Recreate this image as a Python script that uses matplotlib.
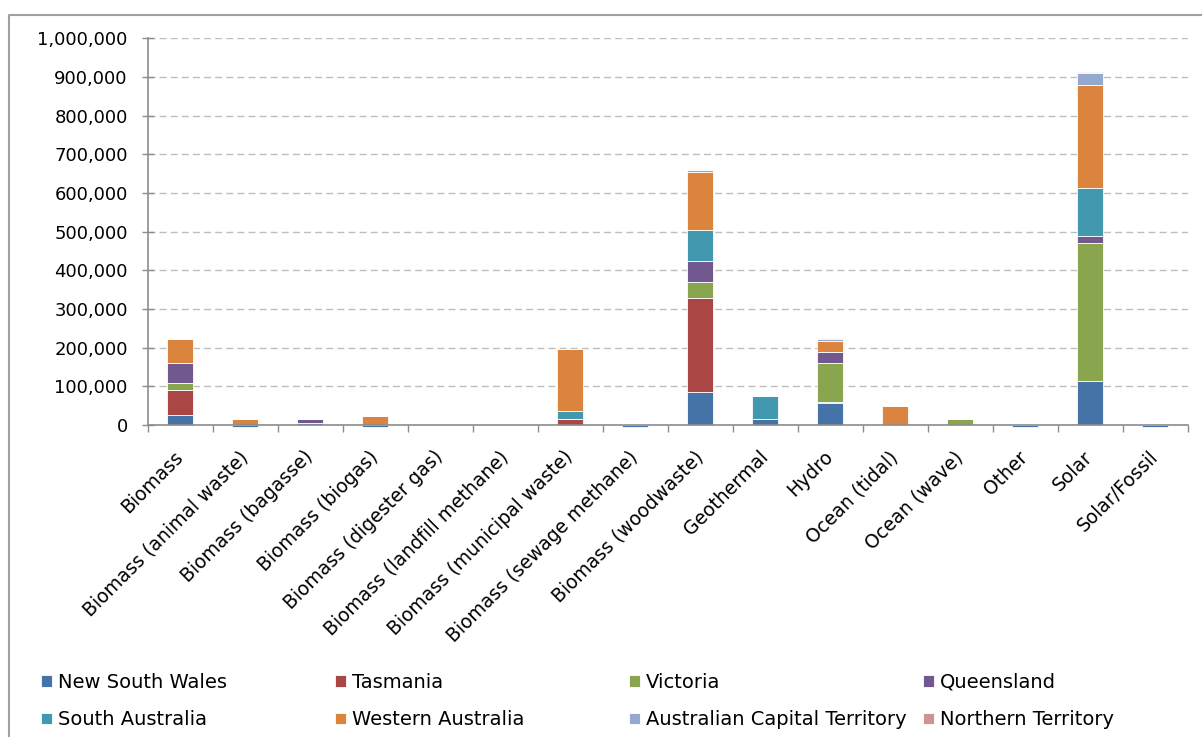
import numpy as np
import matplotlib
matplotlib.use("Agg")
import matplotlib.pyplot as plt
from matplotlib.ticker import FuncFormatter, FixedLocator
from matplotlib.lines import Line2D

plt.rcParams['font.family'] = ['DejaVu Sans']

# Installed capacity by fuel source and state
fuels = ["Biomass", "Biomass (animal waste)", "Biomass (bagasse)", "Biomass (biogas)",
         "Biomass (digester gas)", "Biomass (landfill methane)", "Biomass (municipal waste)",
         "Biomass (sewage methane)", "Biomass (woodwaste)", "Geothermal", "Hydro",
         "Ocean (tidal)", "Ocean (wave)", "Other", "Solar", "Solar/Fossil"]

states = ["New South Wales", "Tasmania", "Victoria", "Queensland", "South Australia",
          "Western Australia", "Australian Capital Territory", "Northern Territory"]

nsw = [25000, -6000, 5000, -6000, 0, 1500, 0, -6000, 85000, 16000, 57000, 0, 0, -6000, 114000, -6000]
tas = [65000, 0, 0, 0, 0, 0, 15000, 0, 243000, 0, 3000, 0, 0, 0, 0, 0]
vic = [19000, 0, 0, 0, 2000, 0, 0, 1500, 42000, 0, 99000, 0, 15000, 0, 357000, 0]
qld = [50000, 0, 10000, 0, 0, 0, 0, 0, 55000, 0, 30000, 0, 0, 0, 17000, 0]
sa = [0, 0, 0, 0, 0, 0, 22000, 0, 80000, 60000, 0, 0, 0, 0, 125000, 0]
wa = [63000, 15000, 0, 24000, 0, 0, 159000, 0, 150000, 0, 29000, 50000, 0, 0, 267000, 0]
act = [0, 0, 0, 0, 0, 0, 0, 0, 0, 0, 5000, 0, 0, 0, 30000, 0]
nt = [0, 0, 0, 0, 0, 0, 0, 0, 5000, 0, 1000, 0, 0, 0, 4000, 0]

series = [nsw, tas, vic, qld, sa, wa, act, nt]
colors = ["#4572A7", "#AA4643", "#89A54E", "#71588F",
          "#4198AF", "#DB843D", "#93A9CF", "#D19392"]

fig = plt.figure(figsize=(12.02, 7.37), dpi=100)
ax = fig.add_axes([0.123, 0.4235, 0.865, 0.5245])

x = np.arange(len(fuels))
pos_base = np.zeros(len(fuels))
neg_base = np.zeros(len(fuels))
handles = []
for vals, name, col in zip(series, states, colors):
    v = np.array(vals, dtype=float)
    bottom = np.where(v >= 0, pos_base, neg_base)
    h = ax.bar(x, v, width=0.4, bottom=bottom, color=col, edgecolor="white",
               linewidth=0.6, label=name, clip_on=False, zorder=3)
    handles.append(h)
    pos_base += np.where(v > 0, v, 0)
    neg_base += np.where(v < 0, v, 0)

ax.set_xlim(-0.5, len(fuels) - 0.5)
ax.set_ylim(0, 1000000)
ax.set_yticks(np.arange(0, 1000001, 100000))
ax.yaxis.set_major_formatter(FuncFormatter(lambda v, p: f"{int(v):,}"))
ax.grid(axis="y", color="#BEBEBE", linestyle=(0, (5, 3)), linewidth=1.0, zorder=0)

ax.set_xticks(x)
ax.set_xticklabels(fuels, rotation=45, ha="right", va="center", rotation_mode="anchor")
ax.xaxis.set_minor_locator(FixedLocator(np.arange(-0.5, len(fuels), 1.0)))
ax.tick_params(axis="x", which="major", length=0, pad=21, labelsize=13.5)
ax.tick_params(axis="x", which="minor", length=5, color="#8C8C8C", width=1)
ax.tick_params(axis="y", direction="inout", length=9, color="#8C8C8C", width=1,
               labelsize=13, pad=10)

for side in ["top", "right"]:
    ax.spines[side].set_visible(False)
for side in ["left", "bottom"]:
    ax.spines[side].set_color("#8C8C8C")
    ax.spines[side].set_linewidth(1.2)
ax.spines["bottom"].set_zorder(4)

# one two-row legend per column, evenly spaced across the bottom
col_x = [41, 335, 629, 923]
for c, x0 in enumerate(col_x):
    fig.legend([handles[c], handles[c + 4]], [states[c], states[c + 4]],
               loc="upper left", bbox_to_anchor=(x0 / 1202, 0.087),
               frameon=False, fontsize=14, borderpad=0, borderaxespad=0,
               handlelength=0.55, handleheight=0.55, handletextpad=0.3,
               labelspacing=0.95)

# chart area border (top and left edges)
fig.add_artist(Line2D([9 / 1202, 9 / 1202, 1.0], [0.0, 1 - 15 / 737, 1 - 15 / 737],
                      transform=fig.transFigure, color="#A0A0A0", linewidth=1.5))

fig.savefig("out.png", dpi=100)
